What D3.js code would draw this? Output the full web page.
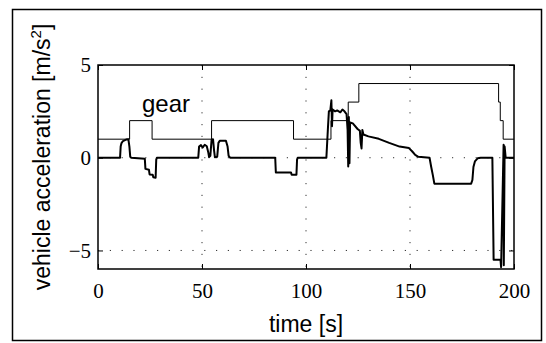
<!DOCTYPE html>
<html>
<head>
<meta charset="utf-8">
<script src="https://cdn.jsdelivr.net/npm/d3@7"></script>
<style>
  body { margin: 0; background: #fff; }
</style>
</head>
<body>
<div id="chart"></div>
<script>
// gear (step signal)
const gearTime  = [0, 15.2, 26, 54.6, 94, 112, 120.3, 125.4, 192.6, 193.4, 194.8, 200];
const gearValue = [1, 2, 1, 2, 1, 2, 3, 4, 3, 2, 1, 1];

// vehicle acceleration
const accTime = [0, 10.6, 10.9, 11.3, 12, 13.5, 14.6, 15.1, 15.5, 16, 22.5, 22.8, 24.5, 24.8, 26.3, 26.6, 27.7, 28.0, 28.3,
  48.2, 48.6, 49.5, 50.3, 51.3, 52.3, 53, 53.4, 54.0, 54.6, 55.3, 55.8, 56.2, 57.3, 57.9, 58.6, 61.5, 62.3, 62.8, 63.5,
  85.2, 85.5, 92.8, 93.1, 95.4, 95.7, 96,
  109.8, 110.5, 111.0, 111.7, 112.2, 112.5, 112.8, 114, 115, 116.5, 117.5, 118.5, 119.5, 120.0, 120.3, 120.6, 120.9, 121.2,
  122.5, 124.8, 125.9, 126.3, 126.7, 127.1, 127.6, 130, 135, 140, 145, 149.5, 151, 152.5, 154, 159.4, 160.2, 161, 161.7,
  179.4, 180, 180.5, 181.2, 182.5, 184, 189.6, 190.2, 193.5, 193.8, 195.0, 195.1, 195.5, 196.0, 200];
const accValue = [0, 0, 0.6, 0.79, 0.9, 0.98, 1.0, 0.6, 0.05, 0, -0.05, -0.6, -0.65, -0.9, -0.92, -1.05, -1.08, -0.1, 0,
  0, 0.6, 0.68, 0.55, 0.7, 0.62, 0.3, 0.03, 0.1, 0.95, 1.0, 0.4, 0.03, 0.05, 0.8, 0.92, 0.92, 0.6, 0.1, 0,
  0, -0.8, -0.8, -0.92, -0.92, -0.1, 0,
  0, 1.5, 2.5, 2.55, 3.1, 1.7, 2.6, 2.5, 2.55, 2.45, 2.6, 2.5, 2.35, 1.5, -0.47, 2.2, -0.3, 1.9,
  1.85, 1.55, 1.45, 0.8, 0.5, 1.5, 1.25, 1.15, 1.02, 0.8, 0.6, 0.52, 0.35, 0.15, 0.05, 0, -0.5, -0.95, -1.4,
  -1.4, -1.2, -0.5, -0.2, -0.03, 0, 0, -5.5, -5.5, -5.9, 0.7, -5.8, 0.6, 0, 0];

const xTicks = [0, 50, 100, 150, 200];
const yTicks = [-5, 0, 5];
const xGrid = [50, 100, 150];
const yGrid = [-5, 0];

const W = 546, H = 343;
const plotL = 98, plotR = 514, plotT = 65, plotB = 269;

const svg = d3.select("#chart").append("svg")
    .attr("width", W)
    .attr("height", H);

// figure frame
svg.append("rect")
    .attr("x", 12.5).attr("y", 9.5)
    .attr("width", 529).attr("height", 331)
    .attr("fill", "none")
    .attr("stroke", "#000")
    .attr("stroke-width", 1.5);

const x = d3.scaleLinear().domain([0, 200]).range([plotL, plotR]);
const y = d3.scaleLinear().domain([-6, 5]).range([plotB, plotT]);

// dotted grid
svg.append("g").selectAll("line").data(xGrid).join("line")
    .attr("x1", d => x(d)).attr("x2", d => x(d))
    .attr("y1", plotT).attr("y2", plotB)
    .attr("stroke", "#333").attr("stroke-width", 1)
    .attr("stroke-dasharray", "1.2,10.6");
svg.append("g").selectAll("line").data(yGrid).join("line")
    .attr("x1", plotL).attr("x2", plotR)
    .attr("y1", d => y(d)).attr("y2", d => y(d))
    .attr("stroke", "#333").attr("stroke-width", 1)
    .attr("stroke-dasharray", "1.2,10.6");

// axes, ticks pointing inwards
svg.append("g")
    .attr("transform", "translate(0," + plotB + ")")
    .call(d3.axisBottom(x).tickValues(xTicks).tickSizeInner(-5).tickSizeOuter(0).tickPadding(14));
svg.append("g")
    .attr("transform", "translate(0," + plotT + ")")
    .call(d3.axisTop(x).tickValues(xTicks).tickSizeInner(-5).tickSizeOuter(0).tickFormat(""));
svg.append("g")
    .attr("transform", "translate(" + plotL + ",0)")
    .call(d3.axisLeft(y).tickValues(yTicks).tickSizeInner(-5).tickSizeOuter(0).tickPadding(7)
      .tickFormat(d => d < 0 ? "\u2212" + Math.abs(d) : d));
svg.append("g")
    .attr("transform", "translate(" + plotR + ",0)")
    .call(d3.axisRight(y).tickValues(yTicks).tickSizeInner(-5).tickSizeOuter(0).tickFormat(""));

svg.selectAll(".domain").remove();
svg.selectAll(".tick line").attr("stroke", "#000").attr("stroke-width", 1);
svg.selectAll(".tick text")
    .style("font-family", "'Liberation Serif', 'Times New Roman', serif")
    .style("font-size", "21px")
    .attr("fill", "#000");

// plot box
svg.append("rect")
    .attr("x", plotL).attr("y", plotT)
    .attr("width", plotR - plotL).attr("height", plotB - plotT)
    .attr("fill", "none")
    .attr("stroke", "#000")
    .attr("stroke-width", 1.5);

// gear line
const gearLine = d3.line()
    .x((d, i) => x(gearTime[i]))
    .y(d => y(d))
    .curve(d3.curveStepAfter);
svg.append("path")
    .datum(gearValue)
    .attr("d", gearLine)
    .attr("fill", "none")
    .attr("stroke", "#000")
    .attr("stroke-width", 1);

// acceleration line
const accLine = d3.line()
    .x((d, i) => x(accTime[i]))
    .y(d => y(d));
svg.append("path")
    .datum(accValue)
    .attr("d", accLine)
    .attr("fill", "none")
    .attr("stroke", "#000")
    .attr("stroke-width", 2)
    .attr("stroke-linejoin", "round");

// labels
const sans = "'Liberation Sans', Arial, Helvetica, sans-serif";
svg.append("text")
    .attr("x", 166).attr("y", 112)
    .attr("text-anchor", "middle")
    .style("font-family", sans)
    .style("font-size", "24px")
    .text("gear");

svg.append("text")
    .attr("x", (plotL + plotR) / 2).attr("y", 332)
    .attr("text-anchor", "middle")
    .style("font-family", sans)
    .style("font-size", "23px")
    .text("time [s]");

const yl = svg.append("text")
    .attr("transform", "translate(50,157) rotate(-90)")
    .attr("text-anchor", "middle")
    .style("font-family", sans)
    .style("font-size", "23px");
yl.append("tspan").text("vehicle acceleration [m/s");
yl.append("tspan").style("font-size", "15px").attr("dy", -9).text("2");
yl.append("tspan").attr("dy", 9).text("]");
</script>
</body>
</html>
